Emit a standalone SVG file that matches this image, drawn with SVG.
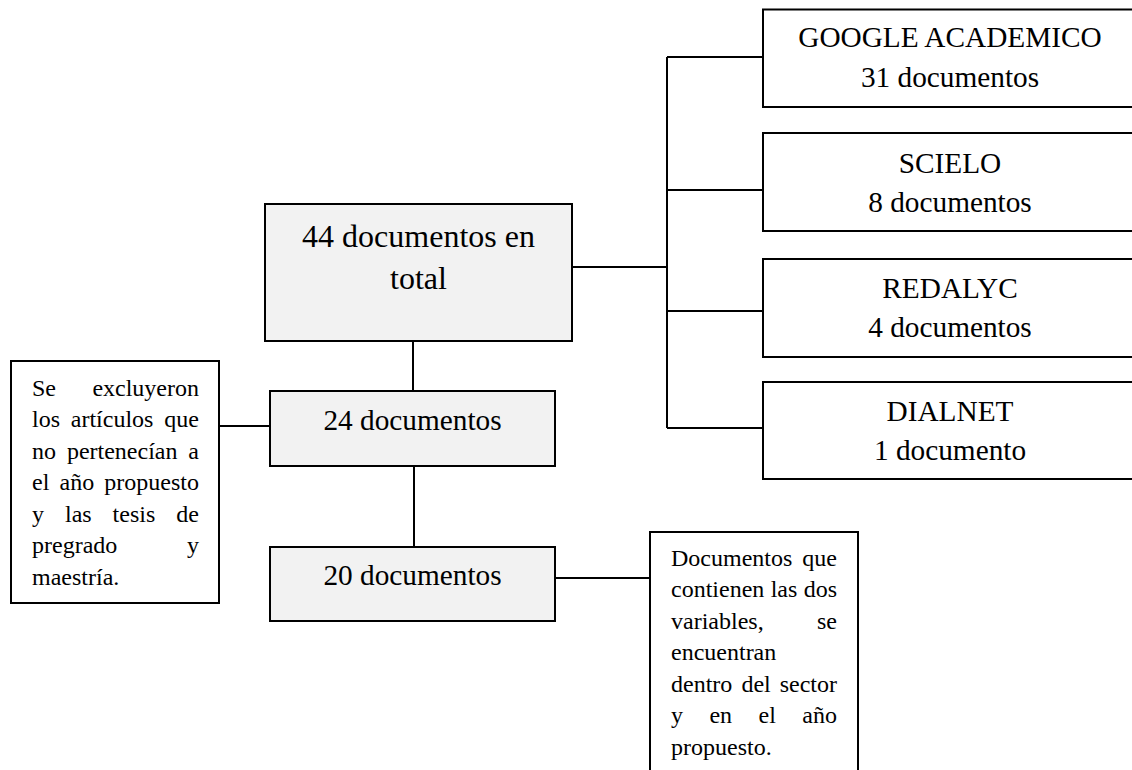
<svg xmlns="http://www.w3.org/2000/svg" width="1132" height="770" viewBox="0 0 1132 770">
<style>
.box{fill:#ffffff;stroke:#000;stroke-width:2}
.gbox{fill:#f2f2f2;stroke:#000;stroke-width:2}
.ln{stroke:#000;stroke-width:2;fill:none}
text{font-family:"Liberation Serif","Times New Roman",serif;fill:#000}
.c{text-anchor:middle}
.e{text-anchor:end}
.t32{font-size:32px}
.t29{font-size:29.3px}
.t24{font-size:24px}
</style>
<rect width="1132" height="770" fill="#ffffff"/>
<g id="connectors">
<line class="ln" x1="572" y1="267" x2="667" y2="267"/>
<line class="ln" x1="667" y1="57" x2="667" y2="428"/>
<line class="ln" x1="667" y1="57" x2="763" y2="57"/>
<line class="ln" x1="667" y1="190" x2="763" y2="190"/>
<line class="ln" x1="667" y1="311" x2="763" y2="311"/>
<line class="ln" x1="667" y1="428" x2="763" y2="428"/>
<line class="ln" x1="413" y1="341" x2="413" y2="391"/>
<line class="ln" x1="414" y1="466" x2="414" y2="547"/>
<line class="ln" x1="219" y1="426" x2="270" y2="426"/>
<line class="ln" x1="555" y1="578" x2="650" y2="578"/>
</g>
<g id="main">
<rect class="gbox" x="265" y="204" width="307" height="137"/>
<text class="t32 c" x="418.5" y="247">44 documentos en</text>
<text class="t32 c" x="418.5" y="289">total</text>
</g>
<g id="google">
<rect class="box" x="763" y="9.5" width="380" height="97.5"/>
<text class="t29 c" x="950" y="46.7">GOOGLE ACADEMICO</text>
<text class="t29 c" x="950" y="87.3">31 documentos</text>
</g>
<g id="scielo">
<rect class="box" x="763" y="133" width="380" height="98"/>
<text class="t29 c" x="950" y="172.7">SCIELO</text>
<text class="t29 c" x="950" y="211.7">8 documentos</text>
</g>
<g id="redalyc">
<rect class="box" x="763" y="259" width="380" height="98"/>
<text class="t29 c" x="950" y="297.7">REDALYC</text>
<text class="t29 c" x="950" y="336.7">4 documentos</text>
</g>
<g id="dialnet">
<rect class="box" x="763" y="382" width="380" height="97"/>
<text class="t29 c" x="950" y="420.7">DIALNET</text>
<text class="t29 c" x="950" y="460">1 documento</text>
</g>
<g id="n24">
<rect class="gbox" x="270" y="391" width="285" height="75"/>
<text class="t29 c" x="412.5" y="430">24 documentos</text>
</g>
<g id="n20">
<rect class="gbox" x="270" y="547" width="285" height="74"/>
<text class="t29 c" x="412.5" y="585">20 documentos</text>
</g>
<g id="excluded">
<rect class="box" x="11" y="361" width="208" height="242"/>
<text class="t24" y="395.5"><tspan x="32">Se</tspan><tspan x="199" text-anchor="end">excluyeron</tspan></text>
<text class="t24" y="427"><tspan x="32">los</tspan><tspan x="70.8">artículos</tspan><tspan x="199" text-anchor="end">que</tspan></text>
<text class="t24" y="458.5"><tspan x="32">no</tspan><tspan x="66.9">pertenecían</tspan><tspan x="199" text-anchor="end">a</tspan></text>
<text class="t24" y="490"><tspan x="32">el</tspan><tspan x="59.5">año</tspan><tspan x="199" text-anchor="end">propuesto</tspan></text>
<text class="t24" y="521.5"><tspan x="32">y</tspan><tspan x="65">las</tspan><tspan x="112.6">tesis</tspan><tspan x="199" text-anchor="end">de</tspan></text>
<text class="t24" y="553"><tspan x="32">pregrado</tspan><tspan x="199" text-anchor="end">y</tspan></text>
<text class="t24" x="32" y="584.5">maestría.</text>
</g>
<g id="contain">
<rect class="box" x="650" y="532" width="208" height="260"/>
<text class="t24" y="565.5"><tspan x="671">Documentos</tspan><tspan x="837" text-anchor="end">que</tspan></text>
<text class="t24" y="597"><tspan x="671">contienen</tspan><tspan x="770.7">las</tspan><tspan x="837" text-anchor="end">dos</tspan></text>
<text class="t24" y="628.5"><tspan x="671">variables,</tspan><tspan x="837" text-anchor="end">se</tspan></text>
<text class="t24" x="671" y="660">encuentran</text>
<text class="t24" y="691.5"><tspan x="671">dentro</tspan><tspan x="741.4">del</tspan><tspan x="837" text-anchor="end">sector</tspan></text>
<text class="t24" y="723"><tspan x="671">y</tspan><tspan x="709.4">en</tspan><tspan x="758.5">el</tspan><tspan x="837" text-anchor="end">año</tspan></text>
<text class="t24" x="671" y="754.5">propuesto.</text>
</g>
</svg>
